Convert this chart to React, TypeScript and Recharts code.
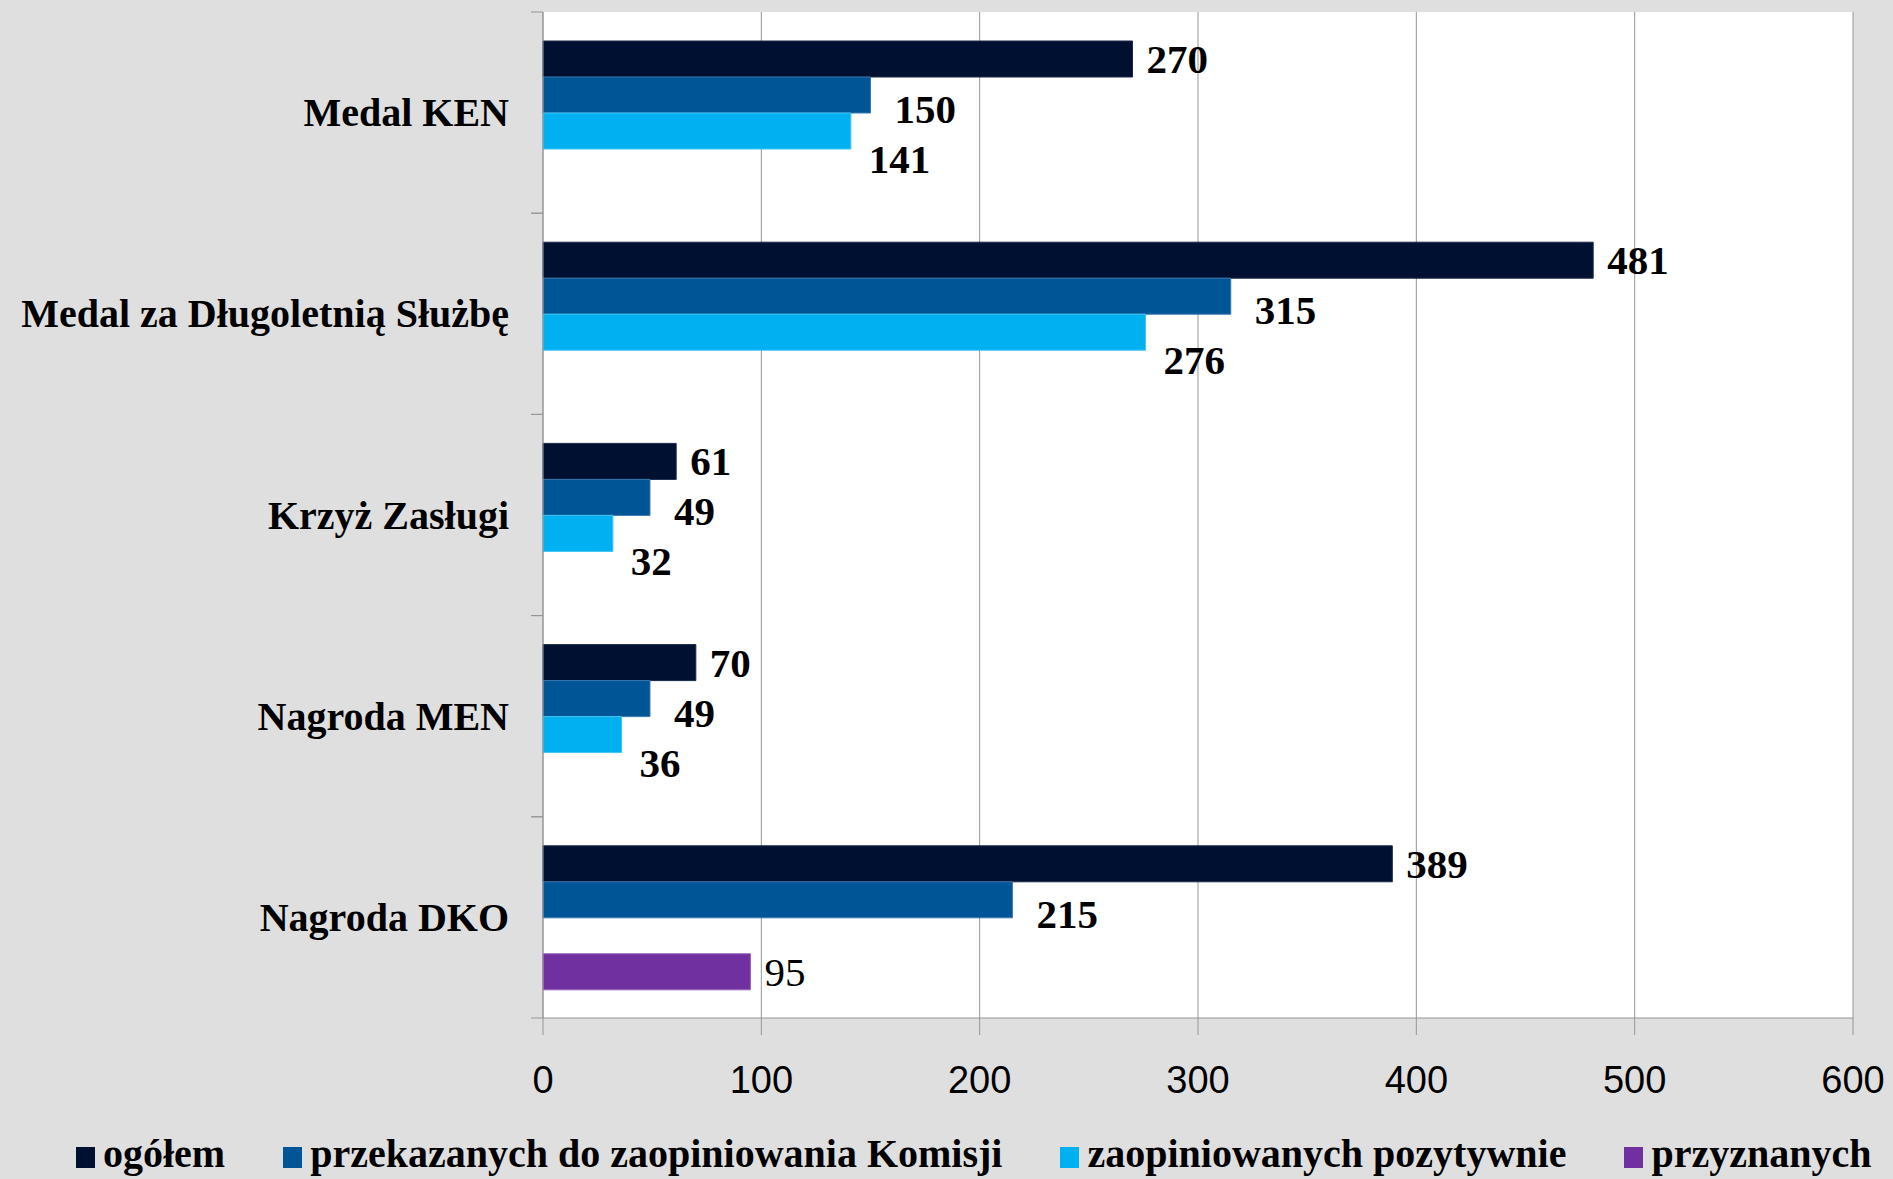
import { Bar, BarChart, CartesianGrid, LabelList, XAxis, YAxis } from "recharts";

const categories = ["Medal KEN", "Medal za Długoletnią Służbę", "Krzyż Zasługi", "Nagroda MEN", "Nagroda DKO"];
const ogolem = [270, 481, 61, 70, 389];
const przekazanych = [150, 315, 49, 49, 215];
const zaopiniowanych: (number | null)[] = [141, 276, 32, 36, null];
const przyznanych: (number | null)[] = [null, null, null, null, 95];
const xTicks = [0, 100, 200, 300, 400, 500, 600];

const seriesNames = ["ogółem", "przekazanych do zaopiniowania Komisji", "zaopiniowanych pozytywnie", "przyznanych"];

const W = 1893;
const H = 1179;
const SERIF = '"Liberation Serif", "Times New Roman", serif';
const SANS = '"Liberation Sans", Arial, sans-serif';
const GRID = "#969696";
const LABEL_GAP = 34;

const series = [
  { key: "ogolem", name: seriesNames[0], color: "#001030", stroke: "#1a2a48", dx: 14, dy: 0, bold: true },
  { key: "przekazanych", name: seriesNames[1], color: "#005597", stroke: "#3a78b0", dx: 24, dy: 14, bold: true },
  { key: "zaopiniowanych", name: seriesNames[2], color: "#00B0F0", stroke: "#40c4f4", dx: 18, dy: 28, bold: true },
  { key: "przyznanych", name: seriesNames[3], color: "#7030A0", stroke: "#9060b8", dx: 14, dy: 0, bold: false },
];

const data = categories.map((name, i) => ({
  name,
  ogolem: ogolem[i],
  przekazanych: przekazanych[i],
  zaopiniowanych: zaopiniowanych[i],
  przyznanych: przyznanych[i],
}));

const CatTick = (props: any) => {
  const { x, y, payload } = props;
  const half = payload?.offset ?? 100.6;
  const ax = x + LABEL_GAP;
  return (
    <g>
      <line x1={ax - 12} x2={ax} y1={y - half} y2={y - half} stroke={GRID} />
      <line x1={ax - 12} x2={ax} y1={y + half} y2={y + half} stroke={GRID} />
      <text x={x} y={y} textAnchor="end" dominantBaseline="central" fontFamily={SERIF} fontWeight="bold" fontSize={40} fill="#000">
        {payload.value}
      </text>
    </g>
  );
};

const makeLabel = (dx: number, dy: number, bold: boolean) => (p: any) => {
  const { x, y, width, height, value } = p;
  if (value === null || value === undefined) return null;
  return (
    <text
      x={x + width + dx}
      y={y + height / 2 + dy}
      dominantBaseline="central"
      fontFamily={SERIF}
      fontWeight={bold ? "bold" : "normal"}
      fontSize={41}
      fill="#000"
    >
      {value}
    </text>
  );
};

export default function App() {
  return (
    <div style={{ position: "absolute", left: 0, top: 0, width: W, height: H, background: "#dfdfdf", overflow: "hidden" }}>
      <BarChart
        width={W}
        height={H}
        data={data}
        layout="vertical"
        barSize={36}
        barGap={0}
        margin={{ top: 12, right: 40, bottom: 101, left: 0 }}
      >
        <CartesianGrid horizontal={false} stroke={GRID} fill="#ffffff" />
        <XAxis
          type="number"
          domain={[0, 600]}
          ticks={xTicks}
          height={60}
          stroke={GRID}
          tickSize={17}
          tickMargin={31}
          tick={{ fill: "#000", fontSize: 38, fontFamily: SANS }}
        />
        <YAxis
          type="category"
          dataKey="name"
          width={543}
          stroke={GRID}
          tickLine={false}
          tickSize={0}
          tickMargin={LABEL_GAP}
          tick={<CatTick />}
        />
        {series.map((s) => (
          <Bar key={s.key} dataKey={s.key} name={s.name} fill={s.color} stroke={s.stroke} strokeWidth={1} isAnimationActive={false}>
            <LabelList dataKey={s.key} content={makeLabel(s.dx, s.dy, s.bold)} />
          </Bar>
        ))}
      </BarChart>
      <div
        style={{
          position: "absolute",
          left: 76,
          top: 1132,
          display: "flex",
          alignItems: "center",
          gap: 58,
          fontFamily: SERIF,
          fontWeight: "bold",
          fontSize: 40,
          lineHeight: "44px",
          color: "#000",
          whiteSpace: "nowrap",
        }}
      >
        {series.map((s) => (
          <div key={s.key} style={{ display: "flex", alignItems: "center", gap: 8 }}>
            <span style={{ display: "inline-block", width: 19, height: 21, background: s.color, marginTop: 6 }} />
            <span>{s.name}</span>
          </div>
        ))}
      </div>
    </div>
  );
}
